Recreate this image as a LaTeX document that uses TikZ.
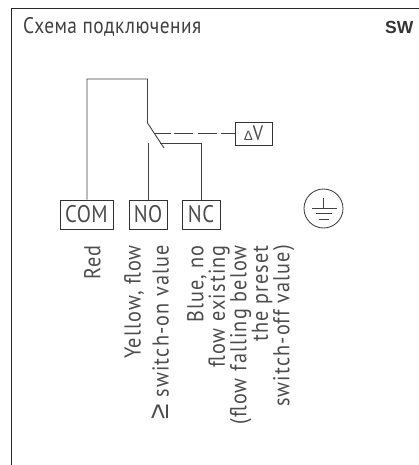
\documentclass[tikz,border=0pt]{standalone}
\usepackage{fontspec}
\setmainfont{PT Sans}
\newfontfamily\din[FakeStretch=0.88,LetterSpace=5]{PT Sans}
\newfontfamily\dintitle[FakeStretch=0.86,LetterSpace=2]{PT Sans}
\newfontfamily\boldsans{Liberation Sans}
\newfontfamily\symfont{Liberation Sans}
\begin{document}
\begin{tikzpicture}[x=1pt,y=-1pt,
  wire/.style={draw=black!75,line width=0.9pt},
  termbox/.style={draw=black!80,line width=0.8pt,minimum height=29pt,inner sep=0pt,font=\dintitle\fontsize{24}{27}\selectfont,text=black!70},
  coillabel/.style={draw=black!80,line width=0.8pt,minimum width=37pt,minimum height=23pt,inner sep=0pt,font=\dintitle\fontsize{21}{24}\selectfont,text=black!70},
  vlabel/.style={rotate=90,anchor=north east,align=right,inner sep=0pt,text=black!70,font=\din\fontsize{23}{21.5}\selectfont}]
\useasboundingbox (0,0) rectangle (419,465);
\draw[line width=1pt,black!85] (11.5,465) -- (11.5,8.5) -- (419,8.5);
\node[anchor=base west,inner sep=0pt,text=black!75,font=\dintitle\fontsize{22.5}{24}\selectfont] (title) at (23,34) {Схема подключения};
\node[anchor=base west,inner sep=0pt,text=black!80,font=\boldsans\bfseries\fontsize{17.5}{20}\selectfont] (code) at (385,33.5) {SW};
\node[termbox,minimum width=53pt] (com) at (86.5,214.5) {COM};
\node[termbox,minimum width=38pt] (no) at (148,214.5) {NO};
\node[termbox,minimum width=38pt] (nc) at (201,214.5) {NC};
\node[coillabel] (dv) at (253.5,133.5) {{\symfont\fontsize{13.5}{16}\selectfont Δ}V};
\coordinate (pivot) at (147.5,123);
\coordinate (tip) at (164,148);
\coordinate (nopoint) at (148,143);
\coordinate (ncpoint) at (160,143);
\coordinate (dash) at (155,133.5);
\draw[wire] (com.north -| 87,0) -- (87,79) -- (147.5,79) -- (pivot) -- (tip);
\draw[wire] (no.north) -- (nopoint);
\draw[wire] (nc.north) -- (201,143) -- (ncpoint);
\draw[wire,dash pattern=on 16pt off 3pt on 19pt off 5pt on 19pt off 4pt on 14pt off 0pt] (dash) -- (dv.west);
\node[draw=black!80,line width=0.8pt,circle,minimum size=39pt,inner sep=0pt] (gnd) at (323.5,208.5) {};
\draw[wire] (323.5,198) -- (323.5,208);
\draw[wire] (312,208) -- (337,208);
\draw[wire] (316,213.5) -- (332,213.5);
\draw[wire] (319,219) -- (329,219);
\node[vlabel] (red) at (84,245) {Red};
\node[vlabel] (yellow) at (124,245) {Yellow, flow\\[6.5pt]{\symfont\fontsize{28}{21.5}\selectfont ≥} switch-on value};
\node[vlabel] (blue) at (187,245) {Blue, no\\flow existing\\(flow falling below\\the preset\\switch-off value)};
\end{tikzpicture}
\end{document}
